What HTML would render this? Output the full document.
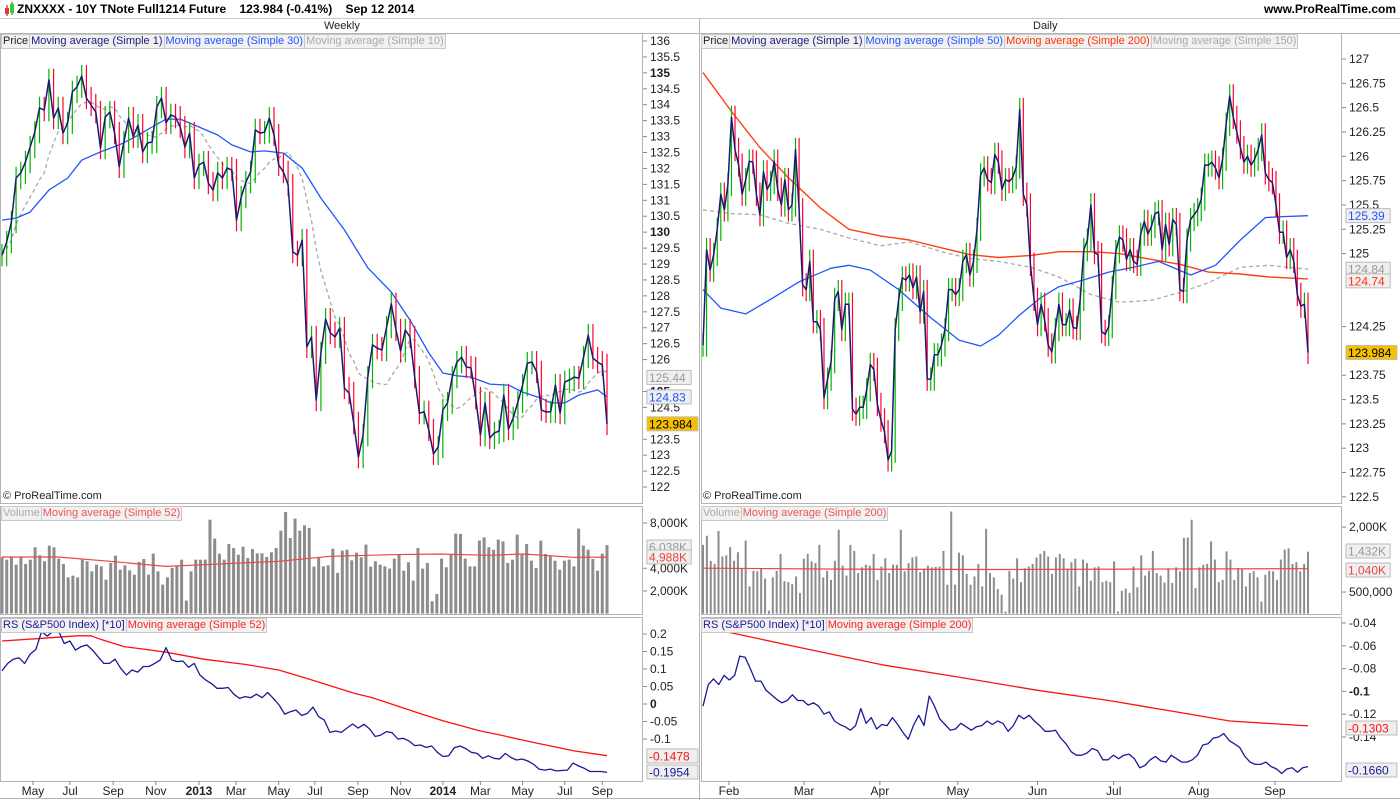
<!DOCTYPE html>
<html><head><meta charset="utf-8">
<style>
body{margin:0;background:#fff;font-family:"Liberation Sans",sans-serif;}
#wrap{position:relative;width:1400px;height:800px;overflow:hidden;background:#fff;}
.hdr{position:absolute;left:0;top:0;width:1400px;height:18px;border-bottom:1px solid #c8c8c8;font-weight:bold;font-size:12px;line-height:18px;}
.lg{position:absolute;display:flex;font-size:11px;line-height:13px;}
.lg span{background:#f1f1f1;border:1px solid #c8c8c8;padding:0 1px;margin-right:-1px;white-space:nowrap;}
.tl{position:absolute;font-size:11px;color:#222;}
</style></head><body>
<div id="wrap">
<div class="hdr">
 <svg width="14" height="18" style="position:absolute;left:3px;top:0"><line x1="4" y1="5" x2="4" y2="16" stroke="#900"/><rect x="2" y="8" width="4" height="6" fill="#e33"/><line x1="9" y1="2" x2="9" y2="15" stroke="#060"/><rect x="7" y="4" width="4" height="9" fill="#3c3"/></svg>
 <span style="position:absolute;left:17px">ZNXXXX - 10Y TNote Full1214 Future&nbsp;&nbsp;&nbsp;&nbsp;123.984 (-0.41%)&nbsp;&nbsp;&nbsp;&nbsp;Sep 12 2014</span>
 <span style="position:absolute;right:4px">www.ProRealTime.com</span>
</div>
<div class="tl" style="left:324px;top:20px">Weekly</div>
<div class="tl" style="left:1033px;top:20px">Daily</div>
<svg id="svg" width="1400" height="800" style="position:absolute;left:0;top:0"></svg>
<div class="lg" style="left:1px;top:34px"><span style="color:#222">Price</span><span style="color:#1a1a80">Moving average (Simple 1)</span><span style="color:#2255ff">Moving average (Simple 30)</span><span style="color:#aaa">Moving average (Simple 10)</span></div>
<div class="lg" style="left:701px;top:34px"><span style="color:#222">Price</span><span style="color:#1a1a80">Moving average (Simple 1)</span><span style="color:#2255ff">Moving average (Simple 50)</span><span style="color:#ff3300">Moving average (Simple 200)</span><span style="color:#aaa">Moving average (Simple 150)</span></div>
<div class="lg" style="left:1px;top:506px"><span style="color:#aaa">Volume</span><span style="color:#ee5555">Moving average (Simple 52)</span></div>
<div class="lg" style="left:701px;top:506px"><span style="color:#aaa">Volume</span><span style="color:#ee5555">Moving average (Simple 200)</span></div>
<div class="lg" style="left:1px;top:618px"><span style="color:#1a1a99">RS (S&amp;P500 Index) [*10]</span><span style="color:#ff2222">Moving average (Simple 52)</span></div>
<div class="lg" style="left:701px;top:618px"><span style="color:#1a1a99">RS (S&amp;P500 Index) [*10]</span><span style="color:#ff2222">Moving average (Simple 200)</span></div>
<div class="tl" style="left:3px;top:490px;font-size:11px">© ProRealTime.com</div>
<div class="tl" style="left:703px;top:490px;font-size:11px">© ProRealTime.com</div>
</div>
<script>
// ---------- DATA ----------
const weeklyClose=[129.28,129.69,130.32,131.70,131.86,132.20,132.67,133.14,133.90,133.83,134.78,133.58,133.90,133.11,133.43,134.40,134.56,134.90,134.21,133.99,133.77,132.64,133.61,133.77,133.11,132.05,132.83,133.58,132.99,133.36,132.52,132.80,132.83,133.93,134.21,133.43,133.68,133.61,133.30,132.67,133.11,131.70,132.11,132.20,131.54,131.32,131.86,131.70,132.01,131.95,130.38,131.10,131.57,131.89,133.21,133.11,133.14,133.58,133.05,132.11,131.89,131.48,129.38,129.28,129.75,
126.40,126.71,124.73,126.21,127.27,126.84,126.71,126.99,125.11,124.95,124.01,122.94,123.63,125.45,126.46,126.36,126.30,127.02,127.75,126.93,126.27,126.93,126.71,125.45,124.32,124.36,123.79,123.04,123.26,124.42,124.64,125.45,125.92,126.08,125.77,125.74,124.79,123.63,124.64,123.54,123.70,123.76,124.89,123.82,124.17,124.67,125.20,125.89,125.92,125.61,124.42,124.36,124.36,125.20,124.32,125.30,125.36,125.45,125.42,126.08,126.77,126.05,125.92,125.83,123.98];
const weeklyMA30Idx=[0,3,6,10,14,17,21,25,28,32,35,38,42,46,49,53,56,60,64,68,73,78,83,87,91,94,97,100,104,108,111,115,117,120,123,127,129];
const weeklyMA30Val=[130.38,130.44,130.63,131.32,131.70,132.26,132.52,132.74,132.96,133.30,133.55,133.55,133.30,133.05,132.74,132.52,132.55,132.48,132.01,131.07,130.07,128.88,128.12,127.24,126.21,125.58,125.49,125.45,125.23,125.20,124.98,124.79,124.64,124.64,124.89,125.05,124.83];
const weeklyVolume=[4970,4760,4970,4320,4970,4380,4760,5850,5150,4620,6000,5850,4850,4380,3200,3350,3200,4760,4620,3730,4320,4170,3000,4470,5120,3880,4260,3820,3440,4560,4820,3440,5290,3730,2560,3200,4030,4230,4760,1150,3730,4760,4760,4760,8290,6620,5290,4760,6140,5790,5200,5910,4910,5700,5320,5320,5000,5410,5790,7320,8970,6670,8380,7320,7790,7560,4150,5000,4170,4260,5730,3590,5560,5640,4700,5380,4970,6090,4150,4620,4320,4170,3970,4850,5260,3790,4530,2910,5790,3970,4470,1090,1730,4850,4090,5200,7060,7030,4850,4170,4170,6440,6730,5850,5640,6530,6380,4470,4760,6970,5200,6140,4670,4030,6440,5260,5060,4670,3880,4670,4760,4170,7500,6000,5640,4820,3790,5290,6038];
const weeklyVolMAIdx=[0,12,23,35,43,59,70,83,93,104,111,122,129];
const weeklyVolMAVal=[5000,5000,4620,4170,4320,4620,5060,5200,5260,5150,5260,4970,4988];
const weeklyRS=[0.095,0.116,0.128,0.132,0.116,0.143,0.156,0.207,0.194,0.207,0.209,0.173,0.180,0.154,0.164,0.169,0.154,0.135,0.116,0.116,0.128,0.102,0.083,0.097,0.091,0.107,0.107,0.116,0.126,0.161,0.126,0.121,0.123,0.105,0.116,0.083,0.069,0.059,0.045,0.045,0.047,0.028,0.016,0.021,0.018,0.028,0.018,0.033,0.016,-0.003,-0.029,-0.022,-0.017,-0.033,-0.027,-0.009,-0.036,-0.046,-0.081,-0.077,-0.081,-0.069,-0.057,-0.069,-0.058,-0.071,-0.093,-0.089,-0.079,-0.082,-0.100,-0.098,-0.106,-0.119,-0.117,-0.124,-0.120,-0.138,-0.150,-0.148,-0.125,-0.120,-0.127,-0.138,-0.141,-0.155,-0.148,-0.155,-0.157,-0.141,-0.153,-0.160,-0.157,-0.163,-0.172,-0.186,-0.189,-0.186,-0.191,-0.190,-0.189,-0.169,-0.177,-0.184,-0.193,-0.193,-0.193,-0.1954];
const weeklyRSMAIdx=[0,9,16,19,21,26,30,35,43,52,59,66,75,79,83,90,94,102,106,113,122,129];
const weeklyRSMAVal=[0.180,0.188,0.195,0.195,0.185,0.164,0.157,0.148,0.128,0.113,0.097,0.069,0.031,0.018,0,-0.031,-0.048,-0.077,-0.088,-0.109,-0.134,-0.1478];

const dailyClose=[124.06,125.04,124.83,124.99,125.25,125.61,125.45,125.71,126.40,126.07,125.91,125.61,125.76,125.95,125.94,125.61,125.40,125.84,125.66,125.73,125.95,125.66,125.50,125.76,125.45,125.50,126.07,125.45,124.68,124.63,124.92,124.30,124.30,124.22,123.52,123.71,123.89,124.53,124.61,124.22,124.48,124.48,123.40,123.35,123.42,123.42,123.60,123.86,123.81,123.45,123.29,123.17,122.88,122.97,124.22,124.53,124.75,124.73,124.78,124.65,124.76,124.40,124.61,123.71,123.71,123.96,123.96,124.06,124.22,124.63,124.63,124.58,124.63,124.92,124.99,124.78,124.92,125.25,125.81,125.88,125.76,125.73,126.02,125.94,125.66,125.76,125.74,125.78,125.89,126.48,125.61,125.50,124.89,124.53,124.27,124.48,124.32,124.06,123.99,124.22,124.48,124.27,124.27,124.42,124.24,124.23,124.53,125.04,125.14,125.50,125.01,124.99,124.20,124.17,124.25,124.65,125.02,125.17,125.14,124.94,125.04,124.92,124.89,125.20,125.33,125.20,125.28,125.41,125.43,125.04,125.30,125.09,125.35,125.30,124.63,124.61,125.14,125.35,125.40,125.45,125.56,125.91,125.91,125.94,125.88,125.78,125.97,126.33,126.62,126.40,126.25,126.09,125.94,126.00,125.91,125.97,126.07,126.22,125.83,125.76,125.73,125.50,125.22,125.22,124.96,125.04,124.92,124.58,124.46,124.48,123.984];
const dailyMAIdx=[0,8,16,24,33,41,50,58,67,75,83,92,100,109,117,126,134,142,151,159,170];
const dailyMA200Val=[126.86,126.46,126.09,125.78,125.47,125.25,125.18,125.14,125.06,124.99,124.96,124.98,125.02,125.02,125.00,124.94,124.89,124.81,124.79,124.76,124.74];
const dailyMA150Val=[125.45,125.41,125.40,125.31,125.25,125.16,125.08,125.12,125.02,124.95,124.92,124.86,124.76,124.58,124.50,124.52,124.60,124.70,124.86,124.88,124.84];
const dailyMA50Idx=[0,5,12,19,27,36,41,47,55,64,72,78,83,89,95,100,107,114,121,128,137,144,151,158,163,170];
const dailyMA50Val=[124.63,124.44,124.38,124.53,124.71,124.85,124.88,124.83,124.63,124.34,124.11,124.05,124.16,124.37,124.55,124.66,124.73,124.81,124.86,124.92,124.78,124.88,125.14,125.37,125.38,125.39];
const dailyVolume=[1590,1800,1220,1150,1910,1320,1350,1540,1220,1420,1040,1690,630,990,980,1040,810,70,840,990,1380,750,730,680,860,480,1270,1380,1210,1170,1590,840,990,780,1220,1940,1110,880,1590,1450,940,1070,1130,1110,1380,780,1090,1280,940,1130,1130,1940,980,1170,1300,1320,960,1040,1110,1070,1080,1090,1450,670,2360,670,1410,1350,920,670,860,1150,630,1960,940,840,570,440,50,990,810,1280,730,1050,1090,1150,1300,1380,1450,1320,920,1300,1380,1280,1040,1190,1270,630,1250,1170,760,1070,1090,730,760,730,1210,50,530,580,480,1090,610,1350,880,990,1450,940,880,720,1050,710,1070,980,1750,1760,2170,590,1070,1130,1150,1670,1250,730,780,1440,1250,780,1050,1020,630,940,980,840,280,900,990,980,780,1250,1480,1510,1150,1190,980,1150,1432];
const dailyVolMAIdx=[0,40,80,120,170];
const dailyVolMAVal=[1050,1030,1020,1030,1040];
const dailyRS=[-0.113,-0.094,-0.089,-0.094,-0.086,-0.090,-0.086,-0.069,-0.070,-0.080,-0.091,-0.091,-0.099,-0.103,-0.107,-0.110,-0.108,-0.103,-0.108,-0.108,-0.112,-0.110,-0.113,-0.120,-0.118,-0.126,-0.129,-0.131,-0.134,-0.130,-0.115,-0.128,-0.123,-0.133,-0.129,-0.130,-0.123,-0.129,-0.136,-0.142,-0.130,-0.121,-0.130,-0.104,-0.113,-0.124,-0.129,-0.134,-0.133,-0.128,-0.131,-0.134,-0.131,-0.130,-0.126,-0.129,-0.126,-0.128,-0.135,-0.130,-0.121,-0.124,-0.121,-0.126,-0.130,-0.135,-0.135,-0.134,-0.141,-0.146,-0.153,-0.156,-0.156,-0.154,-0.150,-0.152,-0.160,-0.160,-0.156,-0.159,-0.156,-0.155,-0.159,-0.167,-0.165,-0.160,-0.157,-0.161,-0.162,-0.156,-0.159,-0.162,-0.162,-0.160,-0.156,-0.147,-0.146,-0.141,-0.140,-0.137,-0.143,-0.146,-0.149,-0.157,-0.162,-0.164,-0.164,-0.162,-0.166,-0.168,-0.172,-0.168,-0.167,-0.171,-0.167,-0.166];
const dailyRSMAIdx=[0,7,28,51,71,94,114,133,148,170];
const dailyRSMAVal=[-0.044,-0.048,-0.062,-0.077,-0.087,-0.099,-0.108,-0.118,-0.126,-0.1303];

const wPriceTicks=[136,135.5,135,134.5,134,133.5,133,132.5,132,131.5,131,130.5,130,129.5,129,128.5,128,127.5,127,126.5,126,125,124.5,123.5,123,122.5,122];
const dPriceTicks=[127,126.75,126.5,126.25,126,125.75,125.5,125.25,125,124.25,123.75,123.5,123.25,123,122.75,122.5];
const wVolTicks=[8000,4000,2000];
const dVolTicks=[2000,500];
const wRSTicks=[0.2,0.15,0.1,0.05,0,-0.05,-0.1];
const dRSTicks=[-0.04,-0.06,-0.08,-0.1,-0.12,-0.14];
const wXLabels=["May","Jul","Sep","Nov","2013","Mar","May","Jul","Sep","Nov","2014","Mar","May","Jul","Sep"];
const wXIdx=[6.6,14.5,23.7,32.8,42,49.9,59,66.7,75.9,85,94,102,111,120,128];
const dXLabels=["Feb","Mar","Apr","May","Jun","Jul","Aug","Sep"];
const dXIdx=[7.3,28.4,49.7,71.6,94,115.4,139.3,160.7];

// ---------- SCALES ----------
const NS='http://www.w3.org/2000/svg';
const svg=document.getElementById('svg');
const nW=weeklyClose.length, nD=dailyClose.length;
const xW=i=>2+i*605/(nW-1);
const xD=i=>703+i*605/(nD-1);
const yPL=p=>41+(136-p)*31.86;
const yPR=p=>59+(127-p)*97.3;
const yVL=v=>613.6-v*0.01133;
const yVR=v=>613.7-v*0.0433;
const yRL=v=>704-v*350;
const yRR=v=>623-(v+0.04)*1140;

function el(tag,attrs,parent){const e=document.createElementNS(NS,tag);for(const k in attrs)e.setAttribute(k,attrs[k]);(parent||svg).appendChild(e);return e;}

const defs=el('defs',{});
function clip(id,x,y,w,h){const c=el('clipPath',{id:id},defs);el('rect',{x:x,y:y,width:w,height:h},c);}
clip('cWP',0,33,642,470);clip('cDP',701,33,640,470);
clip('cWV',0,506,642,108);clip('cDV',701,506,640,108);
clip('cWR',0,617,642,164);clip('cDR',701,617,640,164);

function frame(name,x,y,w,h){const r=el('rect',{x:x+0.5,y:y+0.5,width:w,height:h,fill:'none',stroke:'#b4b4b4'});}
frame('weekly-price-frame',0,33,642,470);frame('daily-price-frame',701,33,640,470);
frame('weekly-volume-frame',0,506,642,108);frame('daily-volume-frame',701,506,640,108);
frame('weekly-rs-frame',0,617,642,164);frame('daily-rs-frame',701,617,640,164);
el('line',{x1:699.5,y1:18,x2:699.5,y2:800,stroke:'#b4b4b4'});
el('line',{x1:0,y1:33.5,x2:1400,y2:33.5,stroke:'#b4b4b4'});
el('line',{x1:0,y1:798.5,x2:1400,y2:798.5,stroke:'#b4b4b4'});

function line(idx,vals,xf,yf,color,w,clipId,name,dash){
  let d='';for(let i=0;i<vals.length;i++){d+=(i?'L':'M')+xf(idx?idx[i]:i).toFixed(1)+','+yf(vals[i]).toFixed(1);}
  const p=el('path',{d:d,fill:'none',stroke:color,'stroke-width':w,'clip-path':'url(#'+clipId+')','stroke-linejoin':'round'});
  if(dash)p.setAttribute('stroke-dasharray',dash);
  
  
  return p;
}
function bars(closes,xf,yf,ext,clipId,prefix){
  const g=el('g',{'clip-path':'url(#'+clipId+')'});
  
  
  for(let i=0;i<closes.length;i++){
    const o=i?closes[i-1]:closes[i];const c=closes[i];
    const hi=Math.max(o,c)+ext, lo=Math.min(o,c)-ext;
    const b=el('line',{x1:xf(i),x2:xf(i),y1:yf(hi),y2:yf(lo),stroke:c>=o?'#00b400':'#ff0033','stroke-width':1.2},g);
    
    
  }
}
function vbars(vals,xf,yf,w,clipId,prefix){
  const g=el('g',{'clip-path':'url(#'+clipId+')'});
  
  
  for(let i=0;i<vals.length;i++){
    const y=yf(vals[i]);
    const r=el('rect',{x:xf(i)-w/2,y:y,width:w,height:yf(0)-y,fill:'#8c8c8c'},g);
    
    
  }
}
function sma(arr,n){return arr.map((v,i)=>{const s=arr.slice(Math.max(0,i-n+1),i+1);return s.reduce((a,b)=>a+b,0)/s.length;});}

line(null,sma(weeklyClose,10),xW,yPL,'#aaaaaa',1.3,'cWP','weekly-ma10','4,3');
line(weeklyMA30Idx,weeklyMA30Val,xW,yPL,'#2255ff',1.3,'cWP','weekly-ma30');
bars(weeklyClose,xW,yPL,0.35,'cWP','weekly-price');
line(null,weeklyClose,xW,yPL,'#1a1a70',1.5,'cWP','weekly-ma1');
line(dailyMAIdx,dailyMA150Val,xD,yPR,'#aaaaaa',1.3,'cDP','daily-ma150','4,3');
line(dailyMAIdx,dailyMA200Val,xD,yPR,'#ff4010',1.4,'cDP','daily-ma200');
line(dailyMA50Idx,dailyMA50Val,xD,yPR,'#2255ff',1.3,'cDP','daily-ma50');
bars(dailyClose,xD,yPR,0.12,'cDP','daily-price');
line(null,dailyClose,xD,yPR,'#1a1a70',1.5,'cDP','daily-ma1');
// volume (spread over full date range)
const xWv=i=>xW(i*(nW-1)/(weeklyVolume.length-1));
const xDv=i=>xD(i*(nD-1)/(dailyVolume.length-1));
vbars(weeklyVolume,xWv,yVL,3,'cWV','weekly');
line(weeklyVolMAIdx,weeklyVolMAVal,xW,yVL,'#ee4444',1.2,'cWV','weekly-volume-ma52');
vbars(dailyVolume,xDv,yVR,2,'cDV','daily');
line(dailyVolMAIdx,dailyVolMAVal,xD,yVR,'#ee4444',1.2,'cDV','daily-volume-ma200');
// RS
const xWrs=i=>xW(i*(nW-1)/(weeklyRS.length-1));
const xDrs=i=>xD(i*(nD-1)/(dailyRS.length-1));
line(weeklyRSMAIdx,weeklyRSMAVal,xW,yRL,'#ff1111',1.3,'cWR','weekly-rs-ma52');
line(null,weeklyRS,xWrs,yRL,'#1a1a99',1.3,'cWR','weekly-rs-line');
line(dailyRSMAIdx,dailyRSMAVal,xD,yRR,'#ff1111',1.3,'cDR','daily-rs-ma200');
line(null,dailyRS,xDrs,yRR,'#1a1a99',1.3,'cDR','daily-rs-line');

function txt(x,y,s,opt,name){const t=el('text',{x:x,y:y,'font-family':'Liberation Sans, sans-serif','font-size':opt.size||12,fill:opt.fill||'#222'});if(opt.bold)t.setAttribute('font-weight','bold');if(opt.anchor)t.setAttribute('text-anchor',opt.anchor);t.textContent=s;return t;}
function yAxis(ticks,yf,ax,fmt,boldSet,name){
  ticks.forEach(v=>{const y=yf(v);el('line',{x1:ax,x2:ax+4,y1:y,y2:y,stroke:'#888'});
    txt(ax+7,y+4,fmt(v),{bold:boldSet.includes(v)},name+'-tick-label');});
}
const fK=v=>v>=1000?(v/1000).toFixed(0)+',000K':(v*1000).toLocaleString('en-US');
yAxis(wPriceTicks,yPL,643,v=>String(v),[135,130,125],'weekly-price-axis');
yAxis(dPriceTicks,yPR,1342,v=>String(v),[],'daily-price-axis');
yAxis(wVolTicks,yVL,643,fK,[],'weekly-volume-axis');
yAxis(dVolTicks,yVR,1342,fK,[],'daily-volume-axis');
yAxis(wRSTicks,yRL,643,v=>String(v),[0],'weekly-rs-axis');
yAxis(dRSTicks,yRR,1342,v=>String(v),[-0.1],'daily-rs-axis');
function xAxis(labels,idx,xf,name){labels.forEach((s,i)=>{const x=xf(idx[i]);el('line',{x1:x,x2:x,y1:781,y2:785,stroke:'#888'});txt(x,795,s,{anchor:'middle',bold:/^\d{4}$/.test(s)},name+'-label');});}
xAxis(wXLabels,wXIdx,xW,'weekly-x-axis');
xAxis(dXLabels,dXIdx,xD,'daily-x-axis');

function tag(x,y,s,fill,bg,name){const w=s.length*6.7+4;const r=el('rect',{x:x,y:y-7,width:w,height:14,fill:bg,stroke:'#bbb'});txt(x+2,y+4.5,s,{fill:fill},name);}
tag(647,yPL(125.44),'125.44','#999','#efefef','weekly-ma10-value');
tag(647,yPL(124.83),'124.83','#2255ff','#efefef','weekly-ma30-value');
tag(647,yPL(123.984),'123.984','#000','#f5c000','weekly-last-price');
tag(1346,yPR(125.39),'125.39','#2255ff','#efefef','daily-ma50-value');
tag(1346,yPR(124.84),'124.84','#999','#efefef','daily-ma150-value');
tag(1346,yPR(124.72),'124.74','#ff3300','#efefef','daily-ma200-value');
tag(1346,yPR(123.984),'123.984','#000','#f5c000','daily-last-price');
tag(647,547,'6,038K','#999','#efefef','weekly-volume-value');
tag(647,557,'4,988K','#ee4444','#efefef','weekly-volume-ma-value');
tag(1346,551,'1,432K','#999','#efefef','daily-volume-value');
tag(1346,570,'1,040K','#ee4444','#efefef','daily-volume-ma-value');
tag(647,756,'-0.1478','#ff1111','#efefef','weekly-rs-ma-value');
tag(647,772,'-0.1954','#1a1a99','#efefef','weekly-rs-value');
tag(1346,728,'-0.1303','#ff1111','#efefef','daily-rs-ma-value');
tag(1346,770,'-0.1660','#1a1a99','#efefef','daily-rs-value');
</script>
</body></html>
